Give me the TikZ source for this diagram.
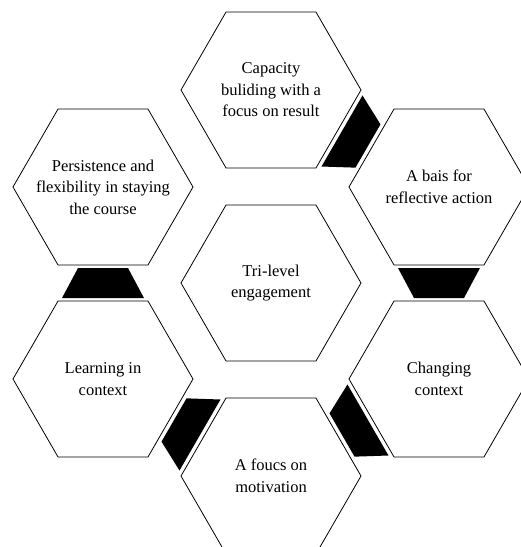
\documentclass[tikz,border=0pt]{standalone}
\usepackage{fontspec}
\setmainfont{Liberation Serif}
\usetikzlibrary{shapes.geometric,calc}
\newcommand\hexlink[2]{%
  \path ($(#1)!0.5!(#2)$) coordinate (lm);
  \path ($(lm)!15pt!(#1)$) coordinate (lps) ($(lm)!15pt!(#2)$) coordinate (lpd);
  \fill[linkfill] ($(lps)!41pt!90:(#1)$) -- ($(lps)!41pt!-90:(#1)$) -- ($(lpd)!25pt!90:(#2)$) -- ($(lpd)!25pt!-90:(#2)$) -- cycle;}
\begin{document}
\begin{tikzpicture}[x=1pt,y=-1pt,
  hexa/.style={regular polygon,regular polygon sides=6,minimum size=180pt,inner sep=0pt,draw=black,line width=0.8pt},
  lbl/.style={align=center,font=\fontsize{16.5}{21.5}\selectfont,text=black,inner sep=0pt},
  linkfill/.style={fill=black}]
\clip (0,0) rectangle (521,547);
\fill[white] (0,0) rectangle (521,547);
\node[hexa] (cap) at (271,90) {};
\node[hexa] (bais) at (439,187) {};
\node[hexa] (chg) at (439,379) {};
\node[hexa] (mot) at (271,476) {};
\node[hexa] (lrn) at (103,379) {};
\node[hexa] (per) at (103,187) {};
\node[hexa] (tri) at (271,283) {};
\node[lbl] (tcap) at (cap) {Capacity\\buliding with a\\focus on result};
\node[lbl] (tbais) at (bais) {A bais for\\reflective action};
\node[lbl] (tchg) at (chg) {Changing\\context};
\node[lbl] (tmot) at (mot) {A foucs on\\motivation};
\node[lbl] (tlrn) at (lrn) {Learning in\\context};
\node[lbl] (tper) at (per) {Persistence and\\flexibility in staying\\the course};
\node[lbl] (ttri) at (tri) {Tri-level\\engagement};
\hexlink{cap}{bais}
\hexlink{bais}{chg}
\hexlink{chg}{mot}
\hexlink{mot}{lrn}
\hexlink{lrn}{per}
\end{tikzpicture}
\end{document}
